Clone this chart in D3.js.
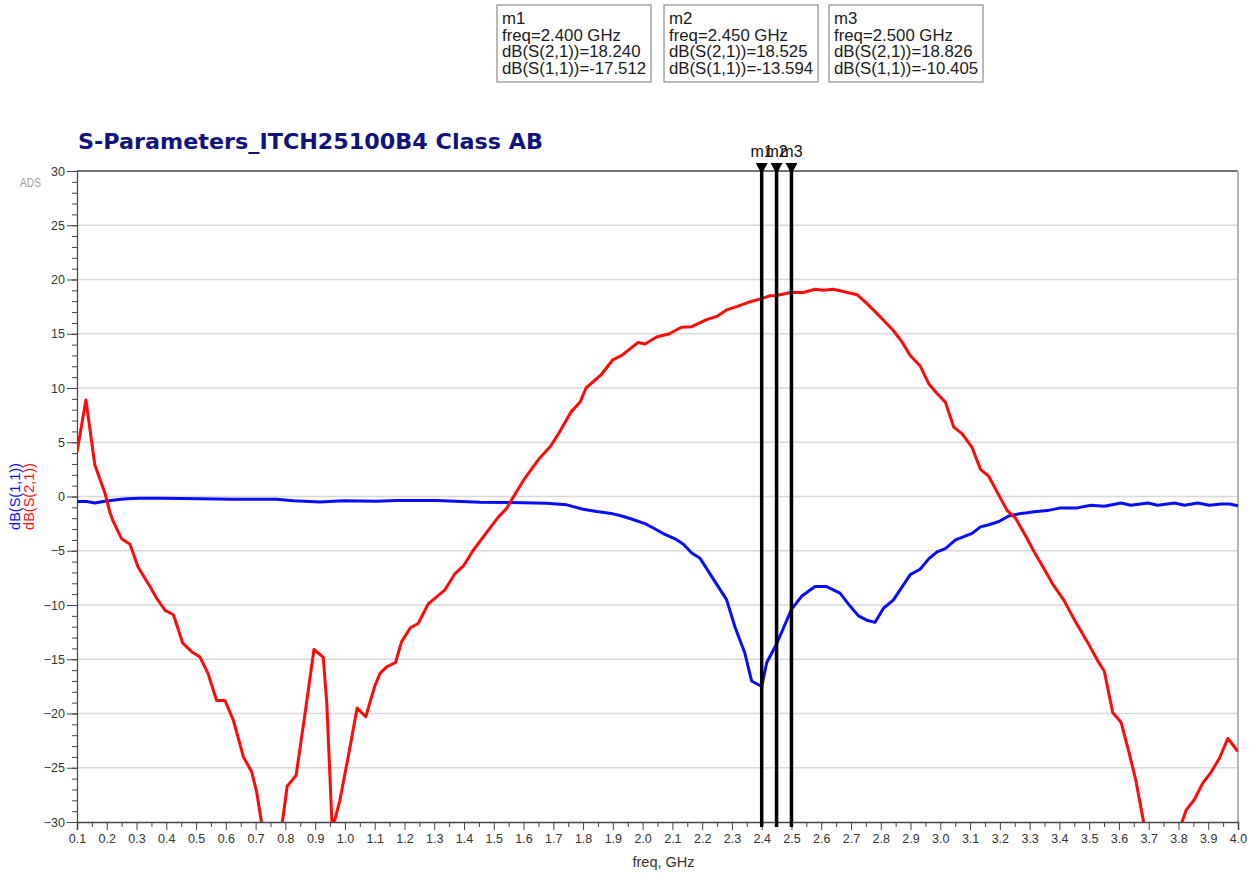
<!DOCTYPE html>
<html>
<head>
<meta charset="utf-8">
<script src="https://cdn.jsdelivr.net/npm/d3@7"></script>
<style>
  body { margin: 0; background: #fff; }
  svg { font-family: "Liberation Sans", Arial, sans-serif; }
</style>
</head>
<body>
<svg id="chart" width="1252" height="877"></svg>
<script>
// S21 (red) trace
const s21Freq = [0.100, 0.130, 0.160, 0.194, 0.210, 0.220, 0.250, 0.278, 0.305, 0.345, 0.368, 0.396, 0.424, 0.455, 0.485, 0.513, 0.540, 0.569, 0.597, 0.625, 0.659, 0.687, 0.704, 0.720, 0.740, 0.770, 0.790, 0.806, 0.836, 0.866, 0.896, 0.927, 0.939, 0.957, 0.966, 0.983, 1.011, 1.041, 1.070, 1.100, 1.118, 1.140, 1.170, 1.190, 1.220, 1.246, 1.280, 1.336, 1.370, 1.398, 1.430, 1.476, 1.515, 1.543, 1.560, 1.600, 1.650, 1.690, 1.720, 1.760, 1.790, 1.810, 1.860, 1.900, 1.930, 1.985, 2.008, 2.047, 2.090, 2.130, 2.165, 2.215, 2.249, 2.282, 2.316, 2.355, 2.400, 2.428, 2.450, 2.500, 2.540, 2.580, 2.607, 2.640, 2.674, 2.720, 2.753, 2.786, 2.814, 2.842, 2.870, 2.899, 2.933, 2.961, 2.989, 3.017, 3.045, 3.073, 3.107, 3.135, 3.163, 3.197, 3.225, 3.253, 3.292, 3.315, 3.343, 3.376, 3.416, 3.449, 3.494, 3.528, 3.551, 3.579, 3.607, 3.635, 3.657, 3.674, 3.683, 3.720, 3.780, 3.812, 3.826, 3.854, 3.882, 3.910, 3.938, 3.966, 4.000];
const s21Db = [4.1, 8.9, 2.9, 0.3, -1.4, -2.2, -3.9, -4.4, -6.5, -8.3, -9.4, -10.5, -10.9, -13.5, -14.3, -14.8, -16.3, -18.8, -18.8, -20.6, -24.0, -25.4, -27.3, -30.1, -34, -34, -30, -26.7, -25.7, -20.0, -14.1, -14.8, -19.0, -30.5, -29.8, -28.0, -24.0, -19.5, -20.3, -17.5, -16.3, -15.7, -15.3, -13.4, -12.1, -11.7, -9.9, -8.6, -7.1, -6.4, -5.0, -3.3, -1.9, -1.1, -0.3, 1.5, 3.4, 4.6, 5.9, 7.8, 8.7, 10.0, 11.2, 12.6, 13.0, 14.2, 14.05, 14.7, 15.0, 15.6, 15.65, 16.3, 16.6, 17.2, 17.5, 17.9, 18.24, 18.5, 18.525, 18.826, 18.8, 19.1, 19.0, 19.1, 18.9, 18.6, 17.8, 16.9, 16.1, 15.3, 14.3, 13.0, 12.0, 10.4, 9.5, 8.7, 6.4, 5.8, 4.5, 2.5, 1.85, 0.1, -1.3, -2.0, -3.9, -5.1, -6.4, -8.0, -9.6, -11.3, -13.4, -15.1, -16.1, -19.9, -20.8, -23.7, -26.2, -28.7, -30, -34, -34, -30, -28.9, -27.9, -26.4, -25.4, -24.1, -22.3, -23.5];

// S11 (blue) trace
const s11Freq = [0.100, 0.133, 0.160, 0.188, 0.233, 0.267, 0.312, 0.379, 0.446, 0.513, 0.625, 0.771, 0.827, 0.916, 0.995, 1.107, 1.174, 1.308, 1.454, 1.555, 1.678, 1.745, 1.800, 1.846, 1.900, 1.924, 1.965, 2.008, 2.036, 2.075, 2.109, 2.137, 2.165, 2.193, 2.221, 2.249, 2.282, 2.310, 2.343, 2.366, 2.400, 2.417, 2.450, 2.500, 2.534, 2.579, 2.618, 2.663, 2.697, 2.725, 2.753, 2.781, 2.809, 2.842, 2.870, 2.899, 2.932, 2.961, 2.989, 3.017, 3.051, 3.079, 3.107, 3.135, 3.163, 3.197, 3.230, 3.264, 3.292, 3.315, 3.360, 3.404, 3.460, 3.506, 3.551, 3.607, 3.640, 3.697, 3.730, 3.787, 3.820, 3.865, 3.904, 3.944, 3.972, 4.000];
const s11Db = [-0.46, -0.46, -0.6, -0.46, -0.3, -0.2, -0.15, -0.15, -0.18, -0.2, -0.25, -0.25, -0.4, -0.5, -0.4, -0.43, -0.37, -0.37, -0.52, -0.56, -0.62, -0.77, -1.17, -1.39, -1.6, -1.75, -2.1, -2.5, -2.9, -3.5, -3.9, -4.4, -5.2, -5.7, -6.9, -8.1, -9.5, -12.0, -14.4, -17.0, -17.512, -15.3, -13.594, -10.405, -9.2, -8.3, -8.3, -8.9, -10.1, -11.0, -11.4, -11.6, -10.3, -9.55, -8.4, -7.2, -6.7, -5.75, -5.1, -4.8, -4.0, -3.7, -3.4, -2.8, -2.6, -2.3, -1.8, -1.6, -1.5, -1.4, -1.3, -1.05, -1.05, -0.8, -0.9, -0.6, -0.8, -0.6, -0.8, -0.6, -0.8, -0.6, -0.8, -0.7, -0.7, -0.85];

// markers
const markerNames = ["m1", "m2", "m3"];
const markerFreq = [2.400, 2.450, 2.500];
const markerS21 = ["18.240", "18.525", "18.826"];
const markerS11 = ["-17.512", "-13.594", "-10.405"];

const yTicks = [30, 25, 20, 15, 10, 5, 0, -5, -10, -15, -20, -25, -30];

const svg = d3.select("#chart");
const pLeft = 77, pRight = 1238, pTop = 171, pBottom = 822;

const x = d3.scaleLinear().domain([0.1, 4.0]).range([pLeft, pRight]);
const y = d3.scaleLinear().domain([-30, 30]).range([pBottom, pTop]);

// marker readout boxes
const boxX = [497, 664, 829];
markerNames.forEach((m, i) => {
  const g = svg.append("g").attr("transform", `translate(${boxX[i]},5)`);
  g.append("rect")
    .attr("width", 154).attr("height", 77)
    .attr("fill", "#fff").attr("stroke", "#8a8a8a").attr("stroke-width", 1.2);
  const lines = [m, `freq=${markerFreq[i].toFixed(3)} GHz`, `dB(S(2,1))=${markerS21[i]}`, `dB(S(1,1))=${markerS11[i]}`];
  lines.forEach((t, j) => {
    g.append("text")
      .attr("x", 5).attr("y", 19 + j * 16.7)
      .attr("font-size", 16.8).attr("fill", "#1a1a1a")
      .text(t);
  });
});

// title
svg.append("text")
  .attr("x", 78).attr("y", 149)
  .attr("font-family", "'DejaVu Sans', sans-serif")
  .attr("font-weight", "bold").attr("font-size", 20.5)
  .attr("fill", "#12127e")
  .attr("textLength", 465).attr("lengthAdjust", "spacingAndGlyphs")
  .text("S-Parameters_ITCH25100B4 Class AB");

svg.append("text")
  .attr("x", 20).attr("y", 187)
  .attr("font-size", 12).attr("fill", "#a0a0a0")
  .attr("textLength", 21).attr("lengthAdjust", "spacingAndGlyphs")
  .text("ADS");

// grid
svg.append("g")
  .selectAll("line")
  .data(yTicks.filter(d => d !== 30 && d !== -30))
  .enter()
  .append("line")
  .attr("x1", pLeft).attr("x2", pRight)
  .attr("y1", d => y(d)).attr("y2", d => y(d))
  .attr("stroke", "#d9d9d9").attr("stroke-width", 1.5);

// frame: top dark, right gray
svg.append("line").attr("x1", pLeft).attr("x2", pRight).attr("y1", pTop).attr("y2", pTop)
  .attr("stroke", "#444").attr("stroke-width", 1.5);
svg.append("line").attr("x1", pRight).attr("x2", pRight).attr("y1", pTop).attr("y2", pBottom)
  .attr("stroke", "#b5b5b5").attr("stroke-width", 2);

// y axis
const yMinor = svg.append("g").attr("transform", `translate(${pLeft},0)`)
  .call(d3.axisLeft(y).ticks(60).tickSize(5).tickFormat(""));
yMinor.select(".domain").remove();
yMinor.selectAll("line").attr("stroke", "#444");

const yAxis = svg.append("g").attr("transform", `translate(${pLeft},0)`)
  .call(d3.axisLeft(y).tickValues(yTicks).tickSize(10).tickPadding(2));
yAxis.select(".domain").attr("stroke", "#444").attr("stroke-width", 1.2);
yAxis.selectAll("line").attr("stroke", "#444");
yAxis.selectAll("text").attr("font-size", 12.5).attr("fill", "#333")
  .attr("font-family", "'Liberation Sans', Arial, sans-serif");

// x axis
const xMinor = svg.append("g").attr("transform", `translate(0,${pBottom})`)
  .call(d3.axisBottom(x).tickValues(d3.range(0.15, 4.0, 0.1)).tickSize(5).tickFormat(""));
xMinor.select(".domain").remove();
xMinor.selectAll("line").attr("stroke", "#444");

const xAxis = svg.append("g").attr("transform", `translate(0,${pBottom})`)
  .call(d3.axisBottom(x).tickValues(d3.range(0.1, 4.05, 0.1)).tickSize(8).tickPadding(4).tickFormat(d3.format(".1f")));
xAxis.select(".domain").attr("stroke", "#444").attr("stroke-width", 1.5);
xAxis.selectAll("line").attr("stroke", "#444");
xAxis.selectAll("text").attr("font-size", 12.5).attr("fill", "#333")
  .attr("font-family", "'Liberation Sans', Arial, sans-serif");

svg.append("text")
  .attr("x", (pLeft + pRight) / 2 + 6).attr("y", 867)
  .attr("text-anchor", "middle").attr("font-size", 14.5).attr("fill", "#333")
  .text("freq, GHz");

// y label (two rotated lines)
const yl = svg.append("g").attr("transform", `translate(0,${y(0)}) rotate(-90)`);
yl.append("text").attr("x", 0).attr("y", 20).attr("text-anchor", "middle")
  .attr("font-size", 14.5).attr("fill", "#1010ff").text("dB(S(1,1))");
yl.append("text").attr("x", 0).attr("y", 34).attr("text-anchor", "middle")
  .attr("font-size", 14.5).attr("fill", "#ff1010").text("dB(S(2,1))");

// traces
svg.append("clipPath").attr("id", "plotClip")
  .append("rect").attr("x", pLeft).attr("y", pTop).attr("width", pRight - pLeft).attr("height", pBottom - pTop);

const line = d3.line().x(d => x(d[0])).y(d => y(d[1]));
const plot = svg.append("g").attr("clip-path", "url(#plotClip)");

plot.append("path")
  .datum(d3.zip(s11Freq, s11Db))
  .attr("d", line)
  .attr("fill", "none").attr("stroke", "#0b0bff").attr("stroke-width", 3)
  .attr("stroke-linejoin", "round");

plot.append("path")
  .datum(d3.zip(s21Freq, s21Db))
  .attr("d", line)
  .attr("fill", "none").attr("stroke", "#ff0a0a").attr("stroke-width", 3)
  .attr("stroke-linejoin", "round");

// marker lines (labels overlap like in the original ADS plot)
const mk = svg.append("g").selectAll("g").data(markerFreq).enter().append("g");
mk.append("line")
  .attr("x1", d => x(d)).attr("x2", d => x(d))
  .attr("y1", pTop - 2).attr("y2", pBottom + 5)
  .attr("stroke", "#000").attr("stroke-width", 3.5);
mk.append("path")
  .attr("d", d => `M${x(d) - 6},${pTop - 8} L${x(d) + 6},${pTop - 8} L${x(d)},${pTop + 3} Z`)
  .attr("fill", "#000");
mk.append("text")
  .attr("x", d => x(d)).attr("y", pTop - 14)
  .attr("text-anchor", "middle").attr("font-size", 16).attr("fill", "#111")
  .text((d, i) => markerNames[i]);
</script>
</body>
</html>
